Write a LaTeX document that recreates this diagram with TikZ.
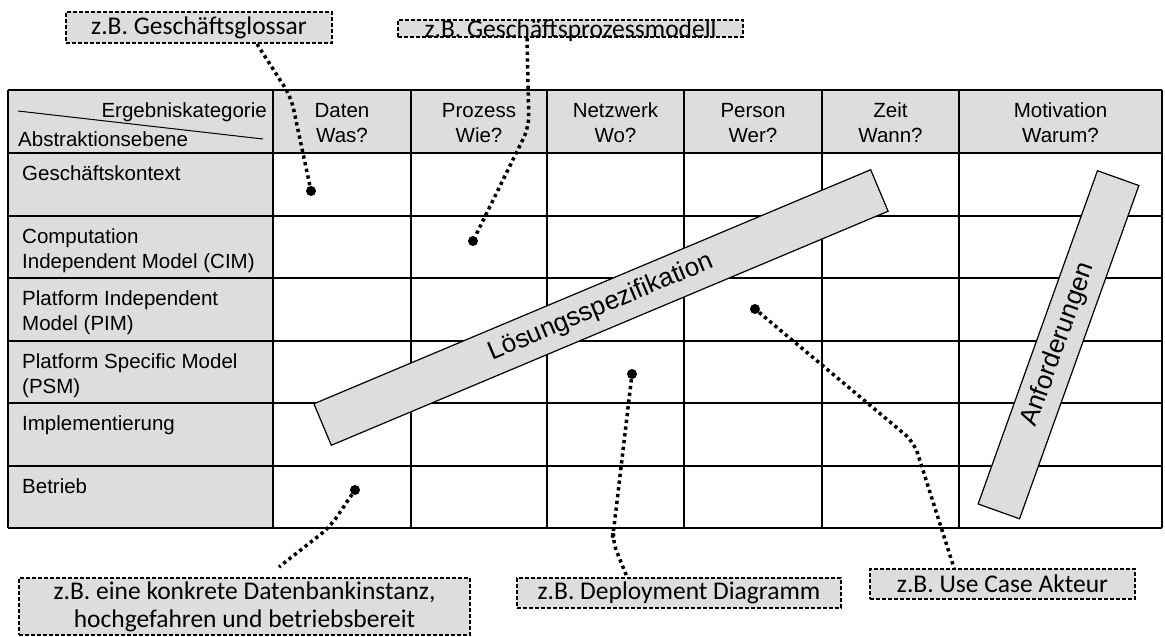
\documentclass[tikz,border=0pt]{standalone}
\usepackage{fontspec}
\setmainfont{Liberation Sans}
\newfontfamily\calibrifont{Carlito}

\definecolor{cellgray}{RGB}{221,221,221}

\tikzset{
  grid/.style={black,line width=1.5pt},
  cell/.style={font=\fontsize{20.5}{25}\selectfont},
  bar/.style={draw=black,fill=cellgray,line width=1.2pt,font=\fontsize{26}{30}\selectfont},
  note/.style={draw=black,fill=cellgray,line width=2pt,dash pattern=on 4pt off 2pt,
    font=\calibrifont\fontsize{25.5}{28}\selectfont,align=center},
  link/.style={black,line width=3.5pt,dash pattern=on 3.3pt off 3.5pt,rounded corners=12pt},
  dot/.style={circle,fill=black,minimum size=10pt}
}

\begin{document}
\begin{tikzpicture}[x=1pt,y=1pt]
\tikzstyle{every node}+=[inner sep=0pt]
\useasboundingbox (0,0) rectangle (1165,-637);
% table
\fill [cellgray] (8,-90) rectangle (1162,-153);
\fill [cellgray] (8,-153) rectangle (273,-528);
\foreach \y in {-90,-153,-216,-278,-341,-403,-466,-528}
  \draw [grid] (8,\y) -- (1162,\y);
\foreach \x in {8,273,411,547,684,822,959,1162}
  \draw [grid] (\x,-90) -- (\x,-528);
\draw [black,line width=1pt] (18,-111) -- (263,-139);
\node [cell,anchor=base east] (ergebnis) at (267,-117) {Ergebniskategorie};
\node [cell,anchor=base west] (ebene) at (18,-146) {Abstraktionsebene};
% column heads (base = last line)
\node [cell,anchor=base,align=center] (daten) at (342,-142) {Daten\\Was?};
\node [cell,anchor=base,align=center] (prozess) at (479,-142) {Prozess\\Wie?};
\node [cell,anchor=base,align=center] (netzwerk) at (615.5,-142) {Netzwerk\\Wo?};
\node [cell,anchor=base,align=center] (person) at (753,-142) {Person\\Wer?};
\node [cell,anchor=base,align=center] (zeit) at (890.5,-142) {Zeit\\Wann?};
\node [cell,anchor=base,align=center] (motivation) at (1060.5,-142) {Motivation\\Warum?};
% row heads
\node [cell,anchor=base west,align=left] (kontext) at (22,-180) {Geschäftskontext};
\node [cell,anchor=base west,align=left] (cim) at (22,-268) {Computation\\Independent Model (CIM)};
\node [cell,anchor=base west,align=left] (pim) at (22,-330) {Platform Independent\\Model (PIM)};
\node [cell,anchor=base west,align=left] (psm) at (22,-393) {Platform Specific Model\\(PSM)};
\node [cell,anchor=base west,align=left] (impl) at (22,-430) {Implementierung};
\node [cell,anchor=base west,align=left] (betrieb) at (22,-493) {Betrieb};
% bars
\node [bar,rotate=22.8,minimum width=604pt,minimum height=45pt] (loesung) at (601,-307.5) {Lösungsspezifikation};
\node [bar,rotate=70.3,minimum width=354pt,minimum height=44pt] (anforderung) at (1058.5,-344.75) {Anforderungen};
% examples
\node [dot] (dglossar) at (311,-191) {};
\node [dot] (dprozess) at (473,-241) {};
\node [dot] (dbetrieb) at (355,-490) {};
\node [dot] (ddeploy) at (632,-374) {};
\node [dot] (dusecase) at (755,-309) {};
\node [note,minimum width=266pt,minimum height=31pt] (glossar) at (199,-27.5) {z.B. Geschäftsglossar};
\node [note,minimum width=345pt,text height=17pt,text depth=0pt,anchor=south] (prozessmodell) at (570.5,-38) {z.B. Geschäftsprozessmodell};
\node [note,minimum width=451pt,minimum height=57pt] (datenbank) at (244.5,-606.5) {z.B. eine konkrete Datenbankinstanz,\\hochgefahren und betriebsbereit};
\node [note,minimum width=324pt,minimum height=30pt] (deploy) at (679,-593) {z.B. Deployment Diagramm};
\node [note,minimum width=265pt,minimum height=30pt] (usecase) at (1002.5,-584) {z.B. Use Case Akteur};
\draw [link] ([xshift=58pt]glossar.south) -- (291,-97) -- (dglossar);
\draw [link] ([xshift=-43.5pt]prozessmodell.south) -- (529,-127) -- (dprozess);
\draw [link] (dbetrieb) -- (330,-527) -- ([xshift=34.5pt,yshift=10pt]datenbank.north);
\draw [link] (ddeploy) -- (614,-527) -- (612,-540) -- ([xshift=-52pt]deploy.north);
\draw [link] (dusecase) -- (914,-442) -- ([xshift=-48.5pt]usecase.north);
\end{tikzpicture}
\end{document}
